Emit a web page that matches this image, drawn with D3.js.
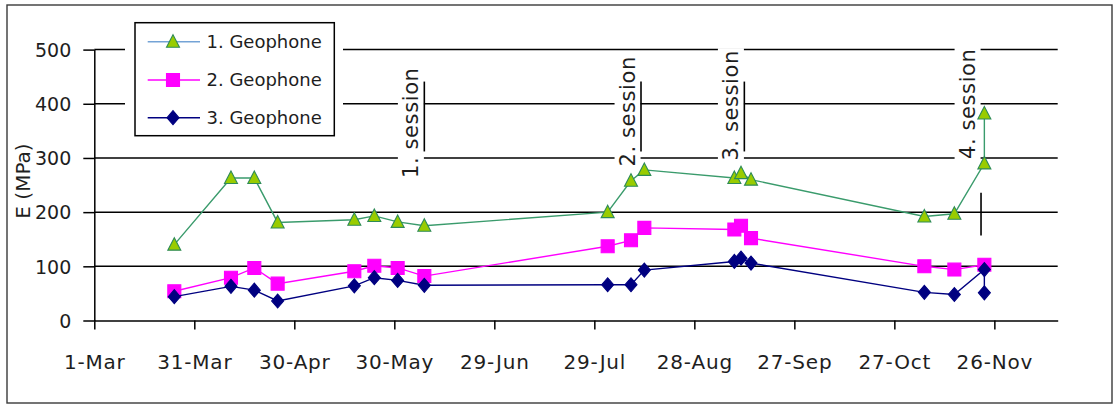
<!DOCTYPE html>
<html>
<head>
<meta charset="utf-8">
<script src="https://cdn.jsdelivr.net/npm/d3@7"></script>
<style>
  body { margin: 0; background: #fff; }
  svg { display: block; }
  text { font-family: "DejaVu Sans", Verdana, sans-serif; fill: #1e1e1e; }
</style>
</head>
<body>
<svg id="chart" width="1119" height="405"></svg>
<script>
// ---- data -------------------------------------------------------------
const year = 2007;
const tickLabels = ["1-Mar", "31-Mar", "30-Apr", "30-May", "29-Jun", "29-Jul", "28-Aug", "27-Sep", "27-Oct", "26-Nov"];
const yTicks = [0, 100, 200, 300, 400, 500];

// measurement dates (geophones 1 and 3 share them; the last day has two readings)
const dates13 = ["03-25", "04-11", "04-18", "04-25", "05-18", "05-24", "05-31", "06-08",
                 "08-02", "08-09", "08-13", "09-09", "09-11", "09-14", "11-05", "11-14", "11-23", "11-23"];
const dates2  = ["03-25", "04-11", "04-18", "04-25", "05-18", "05-24", "05-31", "06-08",
                 "08-02", "08-09", "08-13", "09-09", "09-11", "09-14", "11-05", "11-14", "11-23"];

const geophone1 = [140, 263, 263, 181, 186, 193, 182, 175, 200, 258, 278, 263, 272, 260, 192, 197, 290, 382];
const geophone2 = [54, 79, 97, 68, 91, 101, 97, 82, 137, 148, 171, 168, 175, 152, 100, 94, 103];
const geophone3 = [44, 63, 56, 36, 64, 79, 74, 65, 66, 66, 93, 109, 115, 106, 52, 48, 94, 51];

const seriesNames = ["1. Geophone", "2. Geophone", "3. Geophone"];

// measurement sessions: marker date, marker span (MPa) and label centre (MPa)
const sessionLabels = ["1. session", "2. session", "3. session", "4. session"];
const sessionDates  = ["06-08", "08-12", "09-12", "11-22"];
const sessionFrom   = [312, 312, 312, 157];
const sessionTo     = [441, 441, 441, 236];
const sessionLabelAt = [365, 386, 397, 400];

// ---- scales -----------------------------------------------------------
const parseDay = s => d3.utcParse("%Y-%m-%d")(`${year}-${s}`);
const parseTick = s => d3.utcParse("%d-%b-%Y")(`${s}-${year}`);

const x = d3.scaleUtc()
  .domain([parseDay("03-01"), parseDay("12-15")])
  .range([94.3, 1057.7]);
const y = d3.scaleLinear().domain([0, 500]).range([320.5, 49.6]);

const svg = d3.select("#chart");

// outer frame
svg.append("rect")
  .attr("x", 7).attr("y", 5).attr("width", 1105).attr("height", 398)
  .attr("fill", "#fff").attr("stroke", "#3a3a3a").attr("stroke-width", 1.4);

// horizontal gridlines
svg.append("g").selectAll("line")
  .data(yTicks.filter(v => v > 0))
  .join("line")
  .attr("x1", x.range()[0]).attr("x2", x.range()[1])
  .attr("y1", d => y(d)).attr("y2", d => y(d))
  .attr("stroke", "#000").attr("stroke-width", 1.5);

// y axis
const yAxis = svg.append("g")
  .attr("transform", `translate(${x.range()[0]},0)`)
  .call(d3.axisLeft(y).tickValues(yTicks).tickSize(11).tickSizeOuter(0).tickPadding(12));
yAxis.selectAll("text").attr("font-size", 19).attr("dy", "0.36em");

// x axis
const xAxis = svg.append("g")
  .attr("transform", `translate(0,${y(0)})`)
  .call(d3.axisBottom(x)
    .tickValues(tickLabels.map(parseTick))
    .tickFormat((d, i) => tickLabels[i])
    .tickSize(9).tickSizeOuter(0));
xAxis.selectAll("text").attr("font-size", 20).attr("letter-spacing", 0.8)
  .attr("y", 41.2).attr("dy", "0.36em");

[yAxis, xAxis].forEach(a => {
  a.attr("font-family", null);
  a.selectAll("path, line").attr("stroke", "#000").attr("stroke-width", 1.5);
});

// y axis title
svg.append("text")
  .attr("transform", "translate(23,181) rotate(-90)")
  .attr("text-anchor", "middle").attr("dy", "0.36em")
  .attr("font-size", 20)
  .text("E (MPa)");

// session annotations
const sessions = sessionLabels.map((label, i) => ({
  label, date: parseDay(sessionDates[i]),
  from: sessionFrom[i], to: sessionTo[i], at: sessionLabelAt[i]
}));
const sg = svg.append("g");
sessions.forEach(s => {
  const cx = x(s.date) - 14, cy = y(s.at);
  const t = sg.append("text")
    .attr("transform", `translate(${cx},${cy}) rotate(-90)`)
    .attr("text-anchor", "middle").attr("dy", "0.36em")
    .attr("font-size", 21).attr("letter-spacing", 0.6)
    .text(s.label);
  const bb = t.node().getBBox();
  sg.insert("rect", "text")
    .attr("transform", `translate(${cx},${cy}) rotate(-90)`)
    .attr("x", bb.x - 2).attr("y", bb.y - 1)
    .attr("width", bb.width + 4).attr("height", bb.height + 2)
    .attr("fill", "#fff");
  sg.append("line")
    .attr("x1", x(s.date)).attr("x2", x(s.date))
    .attr("y1", y(s.from)).attr("y2", y(s.to))
    .attr("stroke", "#000").attr("stroke-width", 1.6);
});

// ---- series -------------------------------------------------------------
const markers = {
  triangle: "M0,-7L6.5,5.5L-6.5,5.5Z",
  square: "M-6.5,-6.5H6.5V6.5H-6.5Z",
  diamond: "M0,-7L6,0L0,7L-6,0Z"
};
const series = [
  { name: seriesNames[0], dates: dates13, values: geophone1, line: "#3a9b6c", legendLine: "#74a3d6",
    marker: markers.triangle, fill: "#99cc00", stroke: "#2e8b57" },
  { name: seriesNames[1], dates: dates2, values: geophone2, line: "#ff00ff", legendLine: "#ff00ff",
    marker: markers.square, fill: "#ff00ff", stroke: "#ff00ff" },
  { name: seriesNames[2], dates: dates13, values: geophone3, line: "#000080", legendLine: "#000080",
    marker: markers.diamond, fill: "#000080", stroke: "#000080" }
];

const line = d3.line().x(d => x(d.date)).y(d => y(d.value));
series.forEach(s => {
  const pts = s.values.map((v, i) => ({ date: parseDay(s.dates[i]), value: v }));
  const g = svg.append("g");
  g.append("path").datum(pts)
    .attr("d", line).attr("fill", "none")
    .attr("stroke", s.line).attr("stroke-width", 1.4);
  g.selectAll("path.mk").data(pts).join("path")
    .attr("class", "mk")
    .attr("d", s.marker)
    .attr("transform", d => `translate(${x(d.date)},${y(d.value)})`)
    .attr("fill", s.fill).attr("stroke", s.stroke).attr("stroke-width", 1.1);
});

// ---- legend -------------------------------------------------------------
const lg = svg.append("g");
lg.append("rect").attr("x", 125).attr("y", 14).attr("width", 218).attr("height", 130).attr("fill", "#fff");
lg.append("rect").attr("x", 135).attr("y", 22.7).attr("width", 199.3).attr("height", 113)
  .attr("fill", "#fff").attr("stroke", "#000").attr("stroke-width", 1.5);
const rowY = [41.7, 80, 117.7];
series.forEach((s, i) => {
  const r = lg.append("g").attr("transform", `translate(0,${rowY[i]})`);
  r.append("line").attr("x1", 147.7).attr("x2", 200).attr("stroke", s.legendLine).attr("stroke-width", 1.4);
  r.append("path").attr("d", s.marker).attr("transform", "translate(173,0)")
    .attr("fill", s.fill).attr("stroke", s.stroke).attr("stroke-width", 1.1);
  r.append("text").attr("x", 206.5).attr("dy", "0.36em").attr("font-size", 18).text(s.name);
});
</script>
</body>
</html>
